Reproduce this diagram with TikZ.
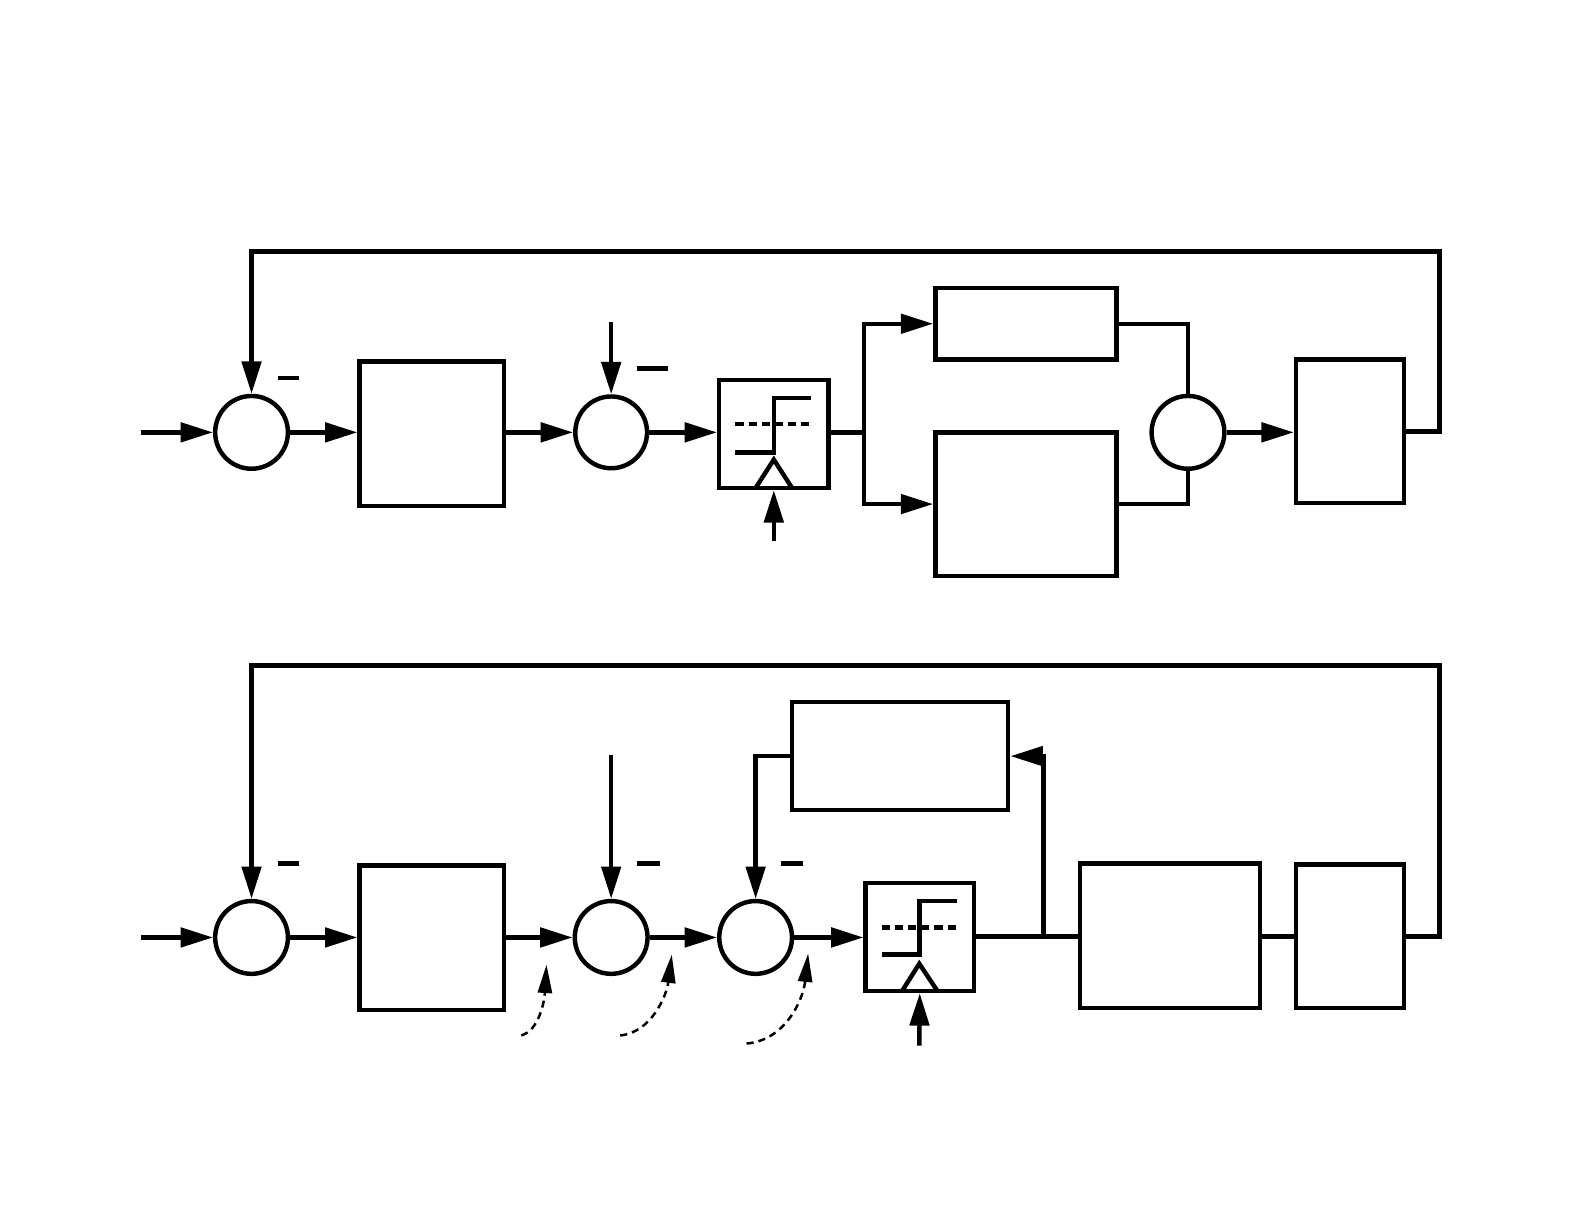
\documentclass[tikz,border=0pt]{standalone}
\usetikzlibrary{arrows.meta}
\begin{document}
\begin{tikzpicture}[x=0.01cm,y=-0.01cm,line width=1.25pt,
  sumc/.style={draw,circle,inner sep=0pt,minimum size=0.72cm},
  blk/.style={draw,rectangle,inner sep=0pt},
  arr/.style={-{Triangle[length=3.2mm,width=1.9mm]}},
  darr/.style={line width=0.7pt,dash pattern=on 0.07cm off 0.05cm,-{Triangle[length=2.8mm,width=1.4mm]}},
  minus/.style={line width=1.25pt},
  thr/.style={dash pattern=on 0.08cm off 0.05cm},
  every node/.style={line width=1.25pt}]
\useasboundingbox (0,0) rectangle (1568,1210);
% ---------------- top diagram ----------------
\node[sumc] (s1) at (249,428) {};
\node[blk,minimum width=1.43cm,minimum height=1.43cm] (b1) at (427.5,429.5) {};
\node[sumc,minimum size=0.71cm] (s2) at (605,428) {};
\node[blk,minimum width=1.08cm,minimum height=1.07cm] (q1) at (766,429.5) {};
\node[blk,minimum width=1.79cm,minimum height=0.71cm] (b2) at (1015.5,320.5) {};
\node[blk,minimum width=1.79cm,minimum height=1.42cm] (b3) at (1015.5,499) {};
\node[sumc] (s3) at (1176,428) {};
\node[blk,minimum width=1.07cm,minimum height=1.42cm] (b4) at (1336.5,427) {};
\coordinate (in1) at (140,428);
\coordinate (d1) at (605,319);
\coordinate (c1) at (766,536);
\coordinate (sp1) at (855,428);
\coordinate (fb1) at (1425,249);
\draw[arr] (in1) -- (s1.west);
\draw[arr] (s1.east) -- (b1.west |- s1.east);
\draw[arr] (b1.east |- s2.west) -- (s2.west);
\draw[arr] (d1) -- (s2.north);
\draw[arr] (s2.east) -- (q1.west |- s2.east);
\draw (q1.east |- sp1) -- (sp1);
\draw[arr] (sp1) |- (b2.west);
\draw[arr] (sp1) |- (b3.west);
\draw (b2.east) -| (s3.north);
\draw (b3.east) -| (s3.south);
\draw[arr] (s3.east) -- (b4.west |- s3.east);
\draw[arr] (b4.east) -| (fb1) -| (s1.north);
\draw[arr] (c1) -- (q1.south);
% quantizer internals
\draw (728,448) -- (766,448) -- (766,394) -- (803,394);
\draw[thr] (728,420) -- (803,420);
\draw (748,483) -- (766,455) -- (784,483);
% minus marks
\draw[minus] (275,374) -- (296,374);
\draw[minus] (631,365) -- (661,365);
% ---------------- bottom diagram ----------------
\node[sumc] (t1) at (249,928) {};
\node[blk,minimum width=1.43cm,minimum height=1.43cm] (tb1) at (427.5,928.5) {};
\node[sumc] (t2) at (605,928) {};
\node[sumc] (t3) at (748,928) {};
\node[blk,minimum width=1.07cm,minimum height=1.07cm] (q2) at (910.5,927.5) {};
\node[blk,minimum width=2.14cm,minimum height=1.07cm] (b5) at (891,748.5) {};
\node[blk,minimum width=1.78cm,minimum height=1.43cm] (b6) at (1158,926.5) {};
\node[blk,minimum width=1.07cm,minimum height=1.42cm] (b7) at (1336.5,927) {};
\coordinate (in2) at (140,928);
\coordinate (d2) at (605,747);
\coordinate (c2) at (910,1035);
\coordinate (br) at (1033,927);
\coordinate (fb2) at (1425,659);
\draw[arr] (in2) -- (t1.west);
\draw[arr] (t1.east) -- (tb1.west |- t1.east);
\draw[arr] (tb1.east |- t2.west) -- (t2.west);
\draw[arr] (d2) -- (t2.north);
\draw[arr] (t2.east) -- (t3.west);
\draw[arr] (b5.west) -| (t3.north);
\draw[arr] (t3.east) -- (q2.west |- t3.east);
\draw (q2.east |- br) -- (b6.west |- br);
\draw[arr] (br) |- (b5.east);
\draw (b6.east |- br) -- (b7.west |- br);
\draw[arr] (b7.east) -| (fb2) -| (t1.north);
\draw[arr] (c2) -- (q2.south);
% quantizer internals
\draw (873,945) -- (910,945) -- (910,892) -- (947,892);
\draw[thr] (873,918) -- (947,918);
\draw (893,981) -- (910,954) -- (928,981);
% minus marks
\draw[minus] (275,855) -- (296,855);
\draw[minus] (631,855) -- (653,855);
\draw[minus] (773,855) -- (795,855);
% dashed arrows
\coordinate (n1s) at (516,1025); \coordinate (n1e) at (541,955);
\coordinate (n2s) at (614,1025); \coordinate (n2e) at (665,945);
\coordinate (n3s) at (739,1033); \coordinate (n3e) at (800,944);
\draw[darr] (n1s) .. controls (534,1020) and (539,990) .. (n1e);
\draw[darr] (n2s) .. controls (645,1022) and (660,985) .. (n2e);
\draw[darr] (n3s) .. controls (777,1030) and (795,990) .. (n3e);
\end{tikzpicture}
\end{document}
